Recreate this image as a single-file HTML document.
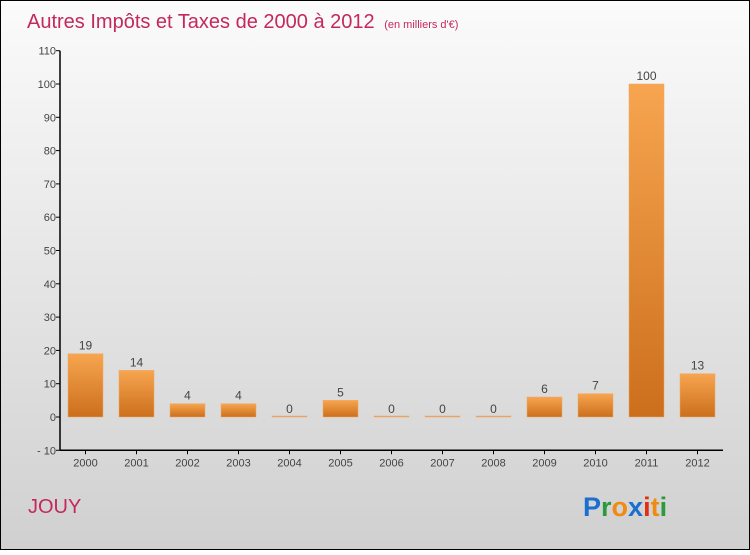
<!DOCTYPE html>
<html><head><meta charset="utf-8"><style>
body{margin:0;width:750px;height:550px;overflow:hidden;font-family:"Liberation Sans",sans-serif}
</style></head><body>
<svg width="750" height="550" xmlns="http://www.w3.org/2000/svg">
<defs>
<linearGradient id="bg" x1="0" y1="0" x2="0" y2="1"><stop offset="0" stop-color="#fbfbfb"/><stop offset="1" stop-color="#d0d0d0"/></linearGradient>
<linearGradient id="bar" x1="0" y1="0" x2="0" y2="1"><stop offset="0" stop-color="#f7a550"/><stop offset="1" stop-color="#cc6f1c"/></linearGradient>
</defs>
<rect x="0.5" y="0.5" width="749" height="549" fill="url(#bg)" stroke="#000"/>
<text x="27" y="28" font-size="20" fill="#c4285e">Autres Impôts et Taxes de 2000 à 2012 <tspan font-size="11" dx="4">(en milliers d'€)</tspan></text>
<g id="axes"></g>
<g id="bars"></g>
<text x="28" y="513" font-size="20" fill="#c4285e">JOUY</text>
<text x="583" y="516" font-size="27" font-weight="bold"><tspan fill="#1a6fd0">P</tspan><tspan fill="#2a9a3a">r</tspan><tspan fill="#f08a10">o</tspan><tspan fill="#1a6fd0">x</tspan><tspan fill="#e03010">i</tspan><tspan fill="#f08a10">t</tspan><tspan fill="#2a9a3a">i</tspan></text>
</svg>
<script>
const categories=["2000","2001","2002","2003","2004","2005","2006","2007","2008","2009","2010","2011","2012"];
const values=[19,14,4,4,0,5,0,0,0,6,7,100,13];
const yTicks=[-10,0,10,20,30,40,50,60,70,80,90,100,110];
const NS="http://www.w3.org/2000/svg";
const X0=60,STEP=51;
function y(v){return 417-v*3.33;}
function xc(i){return X0+25.5+i*STEP;}
function mk(t,a,p,txt){const e=document.createElementNS(NS,t);for(const k in a)e.setAttribute(k,a[k]);if(txt!==undefined)e.textContent=txt;p.appendChild(e);return e;}
const ax=document.getElementById('axes'),bg=document.getElementById('bars');
let l=mk('line',{x1:X0,y1:y(-10),x2:X0+13*STEP,y2:y(-10),stroke:'#000','stroke-width':1.5},ax);


l=mk('line',{x1:X0,y1:y(110),x2:X0,y2:y(-10),stroke:'#000','stroke-width':1.5},ax);


yTicks.forEach(t=>{
 mk('line',{x1:X0-4,y1:y(t),x2:X0,y2:y(t),stroke:'#000'},ax);
 const e=mk('text',{x:X0-4,y:y(t)+4,'font-size':11,fill:'#444','text-anchor':'end'},ax,t===-10?'- 10':String(t));
 
 
});
categories.forEach((c,i)=>{
 mk('line',{x1:xc(i),y1:y(-10),x2:xc(i),y2:y(-10)+4,stroke:'#000'},ax);
 const e=mk('text',{x:xc(i),y:y(-10)+16,'font-size':11,fill:'#444','text-anchor':'middle'},ax,c);
 
 
 const v=values[i];
 const top=y(Math.max(v,0)),h=Math.max(Math.abs(y(v)-y(0)),1);
 const r=mk('rect',{x:xc(i)-17.5,y:v===0?y(0)-1:top,width:35,height:h,fill:v===0?'#e0a070':'url(#bar)',stroke:'#f0a860','stroke-width':0.5},bg);
 
 
 const lb=mk('text',{x:xc(i),y:top-4,'font-size':12,fill:'#444','text-anchor':'middle'},bg,String(v));
 
 
});
</script>
</body></html>
